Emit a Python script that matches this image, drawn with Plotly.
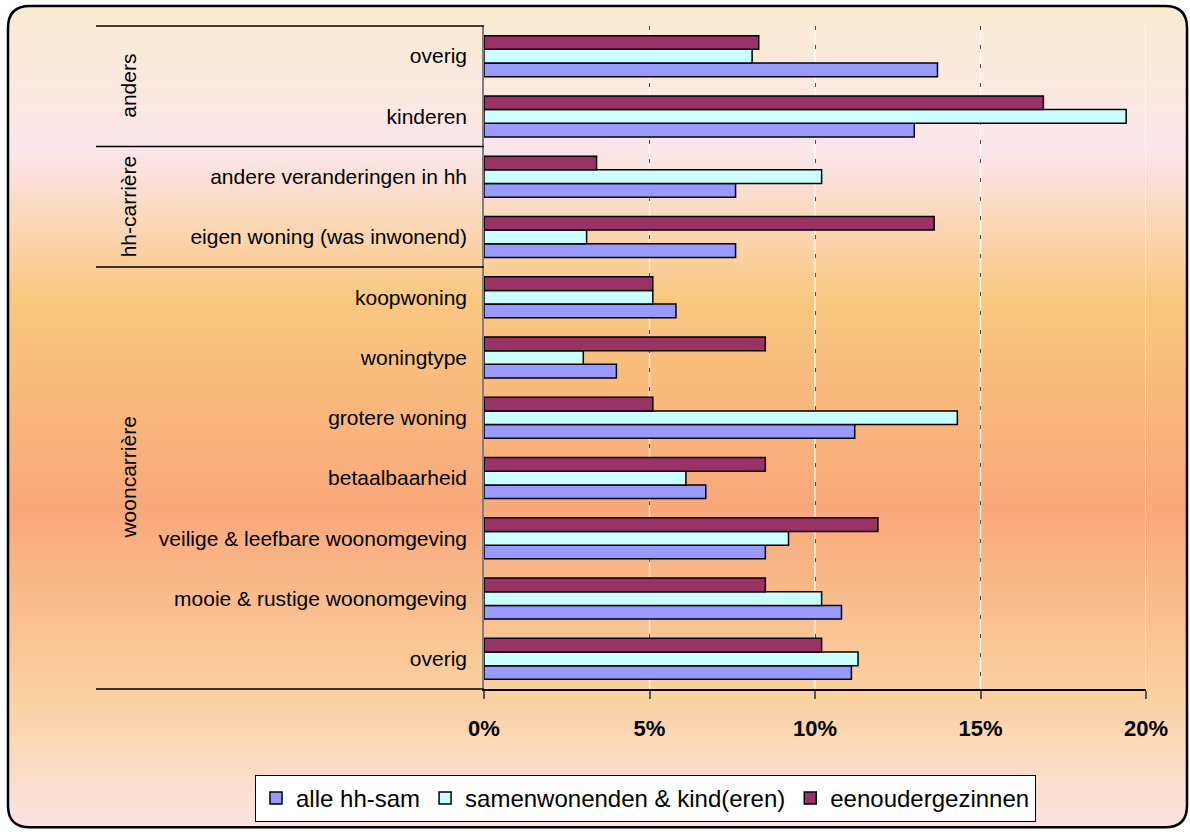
import plotly.graph_objects as go

# categories, bottom to top (as plotted on the y axis)
labels = [
    "overig",
    "mooie & rustige woonomgeving",
    "veilige & leefbare woonomgeving",
    "betaalbaarheid",
    "grotere woning",
    "woningtype",
    "koopwoning",
    "eigen woning (was inwonend)",
    "andere veranderingen in hh",
    "kinderen",
    "overig",
]
groups = ["wooncarrière", "hh-carrière", "anders"]
group_centers = [3, 7.5, 9.5]
group_bounds = [-0.5, 6.5, 8.5, 10.5]

alle_hh_sam = [11.1, 10.8, 8.5, 6.7, 11.2, 4.0, 5.8, 7.6, 7.6, 13.0, 13.7]
samenwonenden = [11.3, 10.2, 9.2, 6.1, 14.3, 3.0, 5.1, 3.1, 10.2, 19.4, 8.1]
eenouder = [10.2, 8.5, 11.9, 8.5, 5.1, 8.5, 5.1, 13.6, 3.4, 16.9, 8.3]

x_ticks = [0, 5, 10, 15, 20]
x_tick_text = ["0%", "5%", "10%", "15%", "20%"]

series = [
    ("alle hh-sam", alle_hh_sam, "#9999ff"),
    ("samenwonenden & kind(eren)", samenwonenden, "#ccffff"),
    ("eenoudergezinnen", eenouder, "#993366"),
]

W, H = 1190, 834
L, R, T, B = 484, 1146, 26, 692  # plot area in pixels
FONT = "Liberation Sans, Arial, sans-serif"


def px(x):
    return (x - L) / (R - L)


def py(y):
    return (B - y) / (B - T)


fig = go.Figure()
pos = list(range(len(labels)))
for name, vals, col in series:
    fig.add_trace(go.Bar(
        y=pos, x=vals, name=name, orientation="h",
        marker=dict(color=col, line=dict(color="black", width=1.5)),
    ))

shapes = []

# background gradient of the chart frame
stops = [(6, (251, 236, 208)), (150, (252, 230, 236)), (300, (249, 200, 128)),
         (510, (249, 168, 122)), (700, (250, 210, 160)), (832, (252, 228, 228))]
x0f, x1f, y0f, y1f = 8, 1187, 6, 831


def grad(y):
    for (ya, ca), (yb, cb) in zip(stops, stops[1:]):
        if ya <= y <= yb:
            t = (y - ya) / (yb - ya)
            return "rgb(%d,%d,%d)" % tuple(round(a + (b - a) * t) for a, b in zip(ca, cb))
    return "rgb(%d,%d,%d)" % stops[-1][1]


step = 3
y = y0f
while y < y1f:
    shapes.append(dict(type="rect", xref="paper", yref="paper", layer="below",
                       x0=px(x0f), x1=px(x1f), y0=py(y), y1=py(min(y + step + 1, y1f)),
                       fillcolor=grad(y + step / 2), line=dict(width=0)))
    y += step

# rounded corners: white masks + border
r = 22
corners = [(x0f, y0f, 1, 1), (x1f, y0f, -1, 1), (x0f, y1f, 1, -1), (x1f, y1f, -1, -1)]
for cx, cy, sx, sy in corners:
    path = "M %f,%f L %f,%f L %f,%f Q %f,%f %f,%f Z" % (
        px(cx), py(cy + sy * r), px(cx), py(cy), px(cx + sx * r), py(cy),
        px(cx), py(cy), px(cx), py(cy + sy * r))
    shapes.append(dict(type="path", xref="paper", yref="paper", layer="below",
                       path=path, fillcolor="white", line=dict(width=0)))

border = ("M %f,%f L %f,%f Q %f,%f %f,%f L %f,%f Q %f,%f %f,%f "
          "L %f,%f Q %f,%f %f,%f L %f,%f Q %f,%f %f,%f Z") % (
    px(x0f + r), py(y0f), px(x1f - r), py(y0f), px(x1f), py(y0f), px(x1f), py(y0f + r),
    px(x1f), py(y1f - r), px(x1f), py(y1f), px(x1f - r), py(y1f),
    px(x0f + r), py(y1f), px(x0f), py(y1f), px(x0f), py(y1f - r),
    px(x0f), py(y0f + r), px(x0f), py(y0f), px(x0f + r), py(y0f))
shapes.append(dict(type="path", xref="paper", yref="paper", layer="below",
                   path=border, line=dict(color="black", width=2.5)))

# light lines under the dashed gridlines
for v in x_ticks[1:]:
    shapes.append(dict(type="line", xref="x", yref="paper", layer="below",
                       x0=v, x1=v, y0=0, y1=1, line=dict(color="rgba(255,255,255,0.8)", width=1.5)))

# group dividers in the category area
for b in group_bounds:
    yy = (b + 0.5) / len(labels)
    shapes.append(dict(type="line", xref="paper", yref="paper",
                       x0=px(96), x1=0, y0=yy, y1=yy, line=dict(color="black", width=1.5)))

annotations = [
    dict(text=g, x=px(115), xref="paper", y=c, yref="y", textangle=-90,
         showarrow=False, font=dict(size=21, color="black", family=FONT))
    for g, c in zip(groups, group_centers)
]

fig.update_layout(
    width=W, height=H,
    margin=dict(l=L, r=W - R, t=T, b=H - B),
    paper_bgcolor="white", plot_bgcolor="rgba(0,0,0,0)",
    font=dict(family=FONT, color="black"),
    barmode="group", bargap=0.32, bargroupgap=0,
    shapes=shapes, annotations=annotations,
    legend=dict(orientation="h", x=px(255), xanchor="left", y=py(802), yanchor="middle",
                bgcolor="white", bordercolor="black", borderwidth=1, itemwidth=30,
                font=dict(size=24, family=FONT), traceorder="normal"),
)
fig.update_xaxes(
    range=[0, 20], tickvals=x_ticks, ticktext=x_tick_text,
    showline=True, linecolor="black", linewidth=1.5,
    ticks="outside", ticklen=8, tickcolor="#555", tickwidth=1.5,
    tickfont=dict(size=22, weight="bold", family=FONT), ticklabelstandoff=11,
    showgrid=True, gridcolor="#4d4d4d", griddash="4px,15px", gridwidth=1,
    zeroline=False, fixedrange=True,
)
fig.update_yaxes(
    range=[-0.5, 10.5], tickvals=pos, ticktext=labels,
    showline=True, linecolor="#7f7f7f", linewidth=1.5,
    ticks="", ticklabelstandoff=11, showgrid=False, zeroline=False,
    tickfont=dict(size=21, family=FONT),
)

fig.write_html("out.html", config={"displayModeBar": False},
               post_script="document.body.style.margin='0';")
